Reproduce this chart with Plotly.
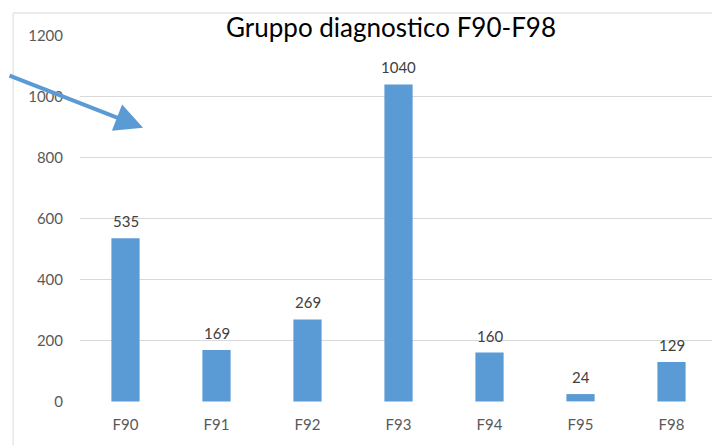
import plotly.graph_objects as go

categories = ["F90", "F91", "F92", "F93", "F94", "F95", "F98"]
values = [535, 169, 269, 1040, 160, 24, 129]
y_ticks = [0, 200, 400, 600, 800, 1000, 1200]

bar_color = "#5B9BD5"
font_name = "Lato, Open Sans, Arial, sans-serif"

fig = go.Figure()

fig.add_trace(go.Bar(
    x=categories, y=values,
    marker_color=bar_color,
    marker_line_width=0,
    width=0.31,
    hoverinfo="x+y",
))

# value labels above the bars
for cat, val in zip(categories, values):
    fig.add_annotation(
        x=cat, y=val, text=str(val), showarrow=False,
        yanchor="middle", yshift=17,
        font=dict(family=font_name, size=15, color="#404040"),
    )

# chart border (partly cut off by the screenshot)
fig.add_shape(
    type="rect", xref="paper", yref="paper",
    x0=-0.105, y0=-0.3, x1=1.2, y1=1.06,
    line=dict(color="#D9D9D9", width=1), layer="below",
)

# the blue arrow pasted onto the chart
fig.add_annotation(
    xref="x domain", yref="y domain", x=0.099, y=0.747,
    axref="x domain", ayref="y domain", ax=-0.113, ay=0.891,
    text="", showarrow=True,
    arrowhead=2, arrowsize=1.4, arrowwidth=4, arrowcolor=bar_color,
)

fig.update_layout(
    width=720, height=445,
    margin=dict(l=72, r=11, t=27, b=51),
    paper_bgcolor="white",
    plot_bgcolor="white",
    showlegend=False,
    title=dict(
        text="Gruppo diagnostico F90-F98",
        x=0.532, xanchor="center", y=0.955, yanchor="middle",
        font=dict(family=font_name, size=26, color="#000000"),
    ),
)

fig.update_xaxes(
    showgrid=False, showline=False, zeroline=False, ticks="",
    ticklabelstandoff=12,
    tickfont=dict(family=font_name, size=15, color="#595959"),
)
fig.update_yaxes(
    range=[-2, 1202], tickvals=y_ticks,
    showgrid=True, gridcolor="#D9D9D9", gridwidth=1,
    zeroline=False, showline=False, ticks="",
    ticklabelstandoff=16,
    tickfont=dict(family=font_name, size=15, color="#595959"),
)

fig.write_html("out.html")
